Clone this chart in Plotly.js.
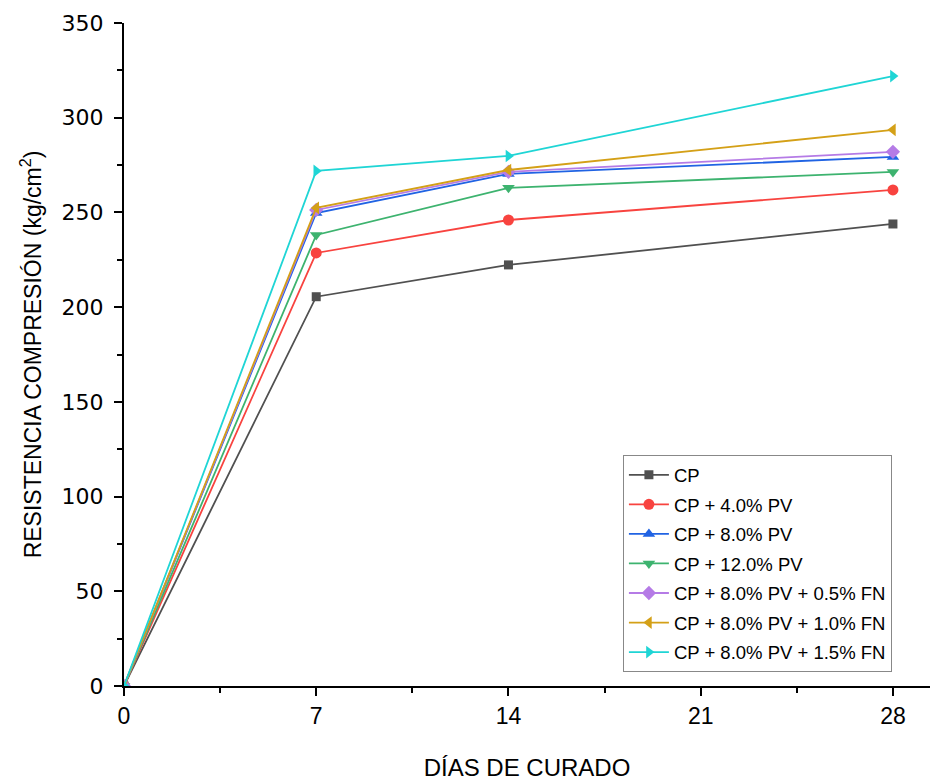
<!DOCTYPE html>
<html>
<head>
<meta charset="utf-8">
<script src="https://cdn.plot.ly/plotly-3.0.1.min.js"></script>
<style>html,body{margin:0;padding:0;background:#fff;}#chart{width:934px;height:781px;}</style>
</head>
<body>
<div id="chart"></div>
<script>
const dias = [0, 7, 14, 28];
const seriesNames = [
  "CP",
  "CP + 4.0% PV",
  "CP + 8.0% PV",
  "CP + 12.0% PV",
  "CP + 8.0% PV + 0.5% FN",
  "CP + 8.0% PV + 1.0% FN",
  "CP + 8.0% PV + 1.5% FN"
];
const cp        = [0, 205.5, 222.3, 243.9];
const cp4pv     = [0, 228.6, 246.0, 261.9];
const cp8pv     = [0, 249.7, 270.3, 279.3];
const cp12pv    = [0, 238.1, 263.0, 271.4];
const cp8pv05fn = [0, 251.3, 271.4, 282.0];
const cp8pv10fn = [0, 252.4, 272.4, 293.6];
const cp8pv15fn = [0, 271.9, 279.8, 322.0];
const xTicks = [0, 7, 14, 21, 28];

const allValues = [cp, cp4pv, cp8pv, cp12pv, cp8pv05fn, cp8pv10fn, cp8pv15fn];
const colors = ["#505050", "#F8433F", "#2063E3", "#3DB36F", "#B57BE6", "#D4A017", "#1FD5D5"];
const symbols = ["square", "circle", "triangle-up", "triangle-down", "diamond", "triangle-left", "triangle-right"];

const traces = allValues.map((v, i) => ({
  x: dias, y: v, name: seriesNames[i], type: "scatter", mode: "lines+markers",
  legendgroup: "g" + i,
  line: {color: colors[i], width: 1.8},
  marker: {symbol: symbols[i], color: colors[i], size: symbols[i]==="square"?9:11}
}));

const font = "'Liberation Sans', Arial, sans-serif";
const layout = {
  width: 934, height: 781,
  margin: {l: 124, r: 4, t: 23, b: 95},
  paper_bgcolor: "#fff", plot_bgcolor: "#fff",
  font: {family: font, color: "#000"},
  showlegend: true,
  xaxis: {
    range: [0, 29.35], tickvals: xTicks, ticktext: xTicks.map(String),
    showgrid: false, zeroline: false, showline: true, linecolor: "#000", linewidth: 2,
    ticks: "outside", ticklen: 8, tickwidth: 2, tickcolor: "#000",
    minor: {dtick: 3.5, tick0: 0, ticks: "outside", ticklen: 5, tickwidth: 2, tickcolor: "#000"},
    tickfont: {size: 23, family: font},
    title: {text: "DÍAS DE CURADO", font: {size: 24, family: font}, standoff: 35}
  },
  yaxis: {
    range: [0, 350], dtick: 50, tick0: 0,
    showgrid: false, zeroline: false, showline: true, linecolor: "#000", linewidth: 2,
    ticks: "outside", ticklen: 8, tickwidth: 2, tickcolor: "#000", ticklabelstandoff: 6,
    minor: {dtick: 25, ticks: "outside", ticklen: 5, tickwidth: 2, tickcolor: "#000"},
    tickfont: {size: 22, family: "'DejaVu Sans', sans-serif"},
    title: {text: "RESISTENCIA COMPRESIÓN (kg/cm<sup>2</sup>)", font: {size: 23, family: font}, standoff: 14}
  },
  legend: {
    x: 0.619, y: 0.348, xanchor: "left", yanchor: "top",
    bgcolor: "#fff", bordercolor: "#888", borderwidth: 1,
    font: {size: 18.5, family: font}, tracegroupgap: 2.5, itemwidth: 40
  }
};
Plotly.newPlot("chart", traces, layout, {displayModeBar: false});
</script>
</body>
</html>
